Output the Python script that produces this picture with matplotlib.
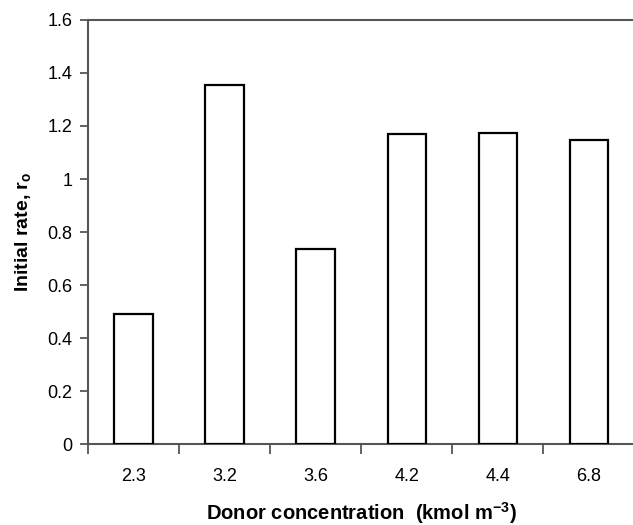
import matplotlib
matplotlib.use("Agg")
import matplotlib.pyplot as plt
import numpy as np

plt.rcParams['font.family'] = ['Liberation Sans', 'DejaVu Sans']
plt.rcParams['mathtext.fontset'] = 'custom'
plt.rcParams['mathtext.rm'] = 'Liberation Sans'
plt.rcParams['mathtext.bf'] = 'Liberation Sans:bold'

donor = ["2.3", "3.2", "3.6", "4.2", "4.4", "6.8"]
rate = [0.49, 1.355, 0.735, 1.17, 1.175, 1.148]

fig = plt.figure(figsize=(6.33, 5.25), dpi=100)
ax = fig.add_axes([0.139, 0.154, 0.863, 0.808])

x = np.arange(len(donor))
ax.bar(x, rate, width=0.42, color="white", edgecolor="black", linewidth=1.6, zorder=3)

ax.set_xlim(-0.5, len(donor) - 0.5)
ax.set_ylim(0, 1.6)
ax.set_yticks(np.arange(0, 1.61, 0.2))
ax.set_yticklabels(["0", "0.2", "0.4", "0.6", "0.8", "1", "1.2", "1.4", "1.6"])

# category labels centred, tick marks on the boundaries
ax.set_xticks(x)
ax.set_xticklabels(donor)
ax.set_xticks(np.arange(-0.5, len(donor), 1.0), minor=True)
ax.tick_params(axis="x", which="major", length=0, pad=17, labelsize=13)
ax.tick_params(axis="x", which="minor", length=7, width=1.3, color="#555555", direction="out")
ax.tick_params(axis="y", length=6, width=1.3, color="#555555", direction="out", labelsize=13, pad=5)

for side in ["left", "bottom", "top"]:
    ax.spines[side].set_color("#555555")
    ax.spines[side].set_linewidth(1.5)
ax.spines["right"].set_visible(False)

ax.set_xlabel("Donor concentration  (kmol m$^{\\mathbf{-3}}$)", fontsize=14.5, fontweight="bold", labelpad=11)
ax.set_ylabel("Initial rate, r$_\\mathbf{o}$", fontsize=14, fontweight="bold", labelpad=10)

fig.savefig("out.png", dpi=100)
